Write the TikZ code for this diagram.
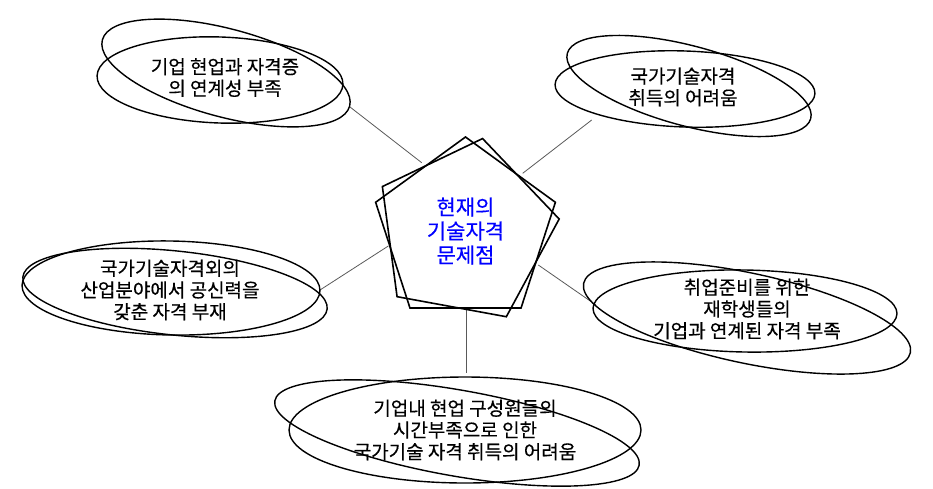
\documentclass[tikz,border=0pt]{standalone}
\usepackage{fontspec}
\setmainfont{Noto Sans CJK KR}
\newfontfamily\lblfont{Noto Sans CJK KR}[FakeBold=0.4]
\begin{document}
\begin{tikzpicture}[x=1pt,y=-1pt]
\tikzset{
  ell/.style={draw=black, line width=1.4pt},
  pent/.style={draw=black, line width=1.6pt, line join=miter},
  conn/.style={draw=black!65, line width=0.8pt},
  lbl/.style={align=center, font=\lblfont\fontsize{19}{21.7}\selectfont, inner sep=0pt},
  ctr/.style={align=center, text=blue, font=\lblfont\fontsize{21}{24}\selectfont, inner sep=0pt}
}
\useasboundingbox (0,0) rectangle (933,488);
% connectors
\coordinate (p1) at (421.7,162.7); \coordinate (q1) at (350,107);
\coordinate (p2) at (522.7,173.3); \coordinate (q2) at (591.7,120);
\coordinate (p3) at (388.3,246);   \coordinate (q3) at (320,290);
\coordinate (p4) at (538.3,265);   \coordinate (q4) at (596,305);
\coordinate (p5) at (466.7,309);   \coordinate (q5) at (466.7,373.3);
\draw[conn] (p1) -- (q1);
\draw[conn] (p2) -- (q2);
\draw[conn] (p3) -- (q3);
\draw[conn] (p4) -- (q4);
\draw[conn] (p5) -- (q5);
% central pentagons
\begin{scope}[shift={(465.5,231.5)}]
\draw[pent] (-90:94.5) -- (-18:94.5) -- (54:94.5) -- (126:94.5) -- (198:94.5) -- cycle;
\draw[pent] (-79.6:94.5) -- (-7.6:94.5) -- (64.4:94.5) -- (136.4:94.5) -- (208.4:94.5) -- cycle;
\end{scope}
\node[ctr] (c) at (465.5,231) {현재의\\기술자격\\문제점};
% group 1
\draw[ell, rotate around={-15:(226,73)}] (226,73) ellipse [x radius=128, y radius=44];
\draw[ell, rotate around={-2:(220,80)}] (220,80) ellipse [x radius=123, y radius=43];
\node[lbl] (g1) at (225,77.5) {기업 현업과 자격증\\의 연계성 부족};
% group 2
\draw[ell, rotate around={-15:(689,86)}] (689,86) ellipse [x radius=126, y radius=40];
\draw[ell, rotate around={-2:(685,89)}] (685,89) ellipse [x radius=130, y radius=38];
\node[lbl] (g2) at (683,87) {국가기술자격\\취득의 어려움};
% group 3
\draw[ell, rotate around={-1:(171,288)}] (171,288) ellipse [x radius=149, y radius=47];
\draw[ell, rotate around={-6:(175,293)}] (175,293) ellipse [x radius=153, y radius=42];
\node[lbl] (g3) at (170,290) {국가기술자격외의\\산업분야에서 공신력을\\갖춘 자격 부재};
% group 4
\draw[ell, rotate around={-12:(747,318)}] (747,318) ellipse [x radius=167, y radius=45];
\draw[ell, rotate around={-1:(745,311)}] (745,311) ellipse [x radius=152, y radius=41];
\node[lbl] (g4) at (747,309) {취업준비를 위한\\재학생들의\\기업과 연계된 자격 부족};
% group 5
\draw[ell, rotate around={-10:(457,433)}] (457,433) ellipse [x radius=185, y radius=43];
\draw[ell] (465,430) ellipse [x radius=176, y radius=53];
\node[lbl] (g5) at (465,430) {기업내 현업 구성원들의\\시간부족으로 인한\\국가기술 자격 취득의 어려움};
\end{tikzpicture}
\end{document}
